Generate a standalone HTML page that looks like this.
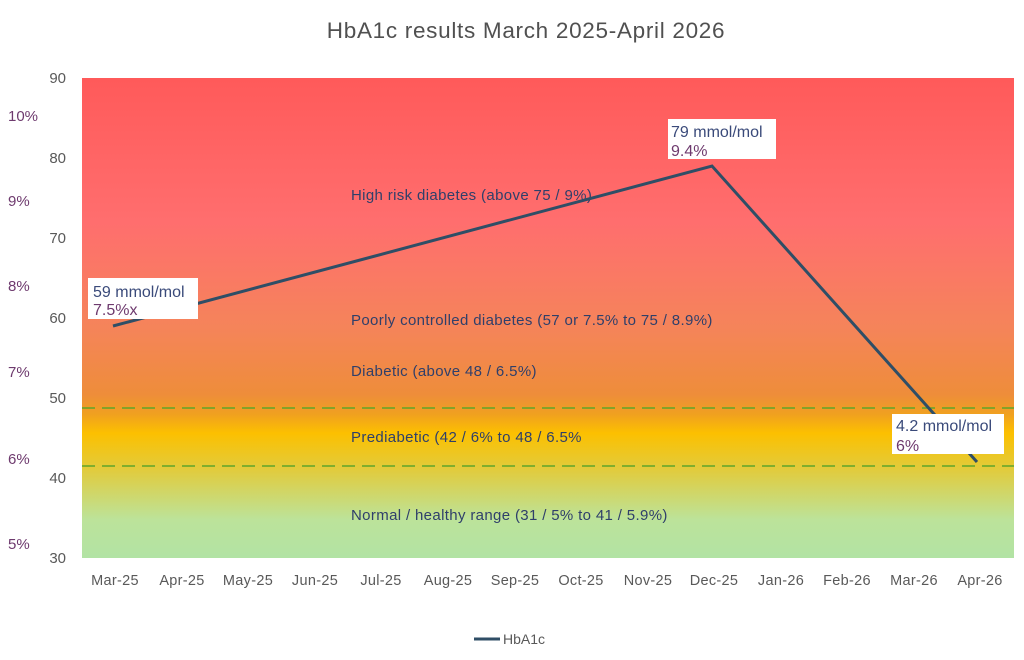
<!DOCTYPE html>
<html><head><meta charset="utf-8"><style>
body{margin:0;background:#fff;}
svg{display:block;font-family:"Liberation Sans",sans-serif;}
</style></head><body>
<svg width="1024" height="660" viewBox="0 0 1024 660">
<defs>
<linearGradient id="g" x1="0" y1="0" x2="0" y2="1">
<stop offset="0" stop-color="#ff5a5a"/>
<stop offset="0.3" stop-color="#ff6e6e"/>
<stop offset="0.52" stop-color="#f5845a"/>
<stop offset="0.66" stop-color="#ee8d3a"/>
<stop offset="0.7" stop-color="#f0a020"/>
<stop offset="0.74" stop-color="#fcc000"/>
<stop offset="0.82" stop-color="#e0cc40"/>
<stop offset="0.92" stop-color="#bce39a"/>
<stop offset="1" stop-color="#b2e3a4"/>
</linearGradient>
</defs>
<text x="526" y="38" text-anchor="middle" font-size="22.5" letter-spacing="0.7" fill="#505050">HbA1c results March 2025-April 2026</text>
<rect x="82" y="78" width="932" height="480" fill="url(#g)"/>
<g font-size="15" fill="#595959" text-anchor="end">
<text x="66" y="83">90</text><text x="66" y="163">80</text><text x="66" y="243">70</text>
<text x="66" y="323">60</text><text x="66" y="403">50</text><text x="66" y="483">40</text><text x="66" y="563">30</text>
</g>
<g font-size="15" fill="#6e3a6e">
<text x="8" y="121">10%</text><text x="8" y="206">9%</text><text x="8" y="291">8%</text>
<text x="8" y="377">7%</text><text x="8" y="464">6%</text><text x="8" y="549">5%</text>
</g>
<g font-size="14.5" fill="#595959" text-anchor="middle" letter-spacing="0.3">
<text x="115" y="585">Mar-25</text><text x="182" y="585">Apr-25</text><text x="248" y="585">May-25</text>
<text x="315" y="585">Jun-25</text><text x="381" y="585">Jul-25</text><text x="448" y="585">Aug-25</text>
<text x="515" y="585">Sep-25</text><text x="581" y="585">Oct-25</text><text x="648" y="585">Nov-25</text>
<text x="714" y="585">Dec-25</text><text x="781" y="585">Jan-26</text><text x="847" y="585">Feb-26</text>
<text x="914" y="585">Mar-26</text><text x="980" y="585">Apr-26</text>
</g>
<g stroke="#5fa52a" stroke-width="1.6" stroke-dasharray="13,7">
<line x1="82" y1="408" x2="1014" y2="408"/><line x1="82" y1="466" x2="1014" y2="466"/>
</g>
<g font-size="15" fill="#2f3f6a" letter-spacing="0.35">
<text x="351" y="200">High risk diabetes (above 75 / 9%)</text>
<text x="351" y="325">Poorly controlled diabetes (57 or 7.5% to 75 / 8.9%)</text>
<text x="351" y="376">Diabetic (above 48 / 6.5%)</text>
<text x="351" y="442">Prediabetic (42 / 6% to 48 / 6.5%</text>
<text x="351" y="520">Normal / healthy range (31 / 5% to 41 / 5.9%)</text>
</g>
<polyline points="113,326 712,166 977,462" fill="none" stroke="#2f4e66" stroke-width="3"/>
<g font-size="16">
<rect x="88" y="278" width="110" height="41" fill="#fff"/>
<text x="93" y="297" fill="#3a4a7a">59 mmol/mol</text><text x="93" y="315" fill="#6e3a6e">7.5%x</text>
<rect x="668" y="119" width="108" height="40" fill="#fff"/>
<text x="671" y="137" fill="#3a4a7a">79 mmol/mol</text><text x="671" y="156" fill="#6e3a6e">9.4%</text>
<rect x="892" y="414" width="112" height="40" fill="#fff"/>
<text x="896" y="431" fill="#3a4a7a">4.2 mmol/mol</text><text x="896" y="451" fill="#6e3a6e">6%</text>
</g>
<line x1="474" y1="639" x2="500" y2="639" stroke="#2f4e66" stroke-width="3"/>
<text x="503" y="644" font-size="14" fill="#595959">HbA1c</text>
</svg>
</body></html>
